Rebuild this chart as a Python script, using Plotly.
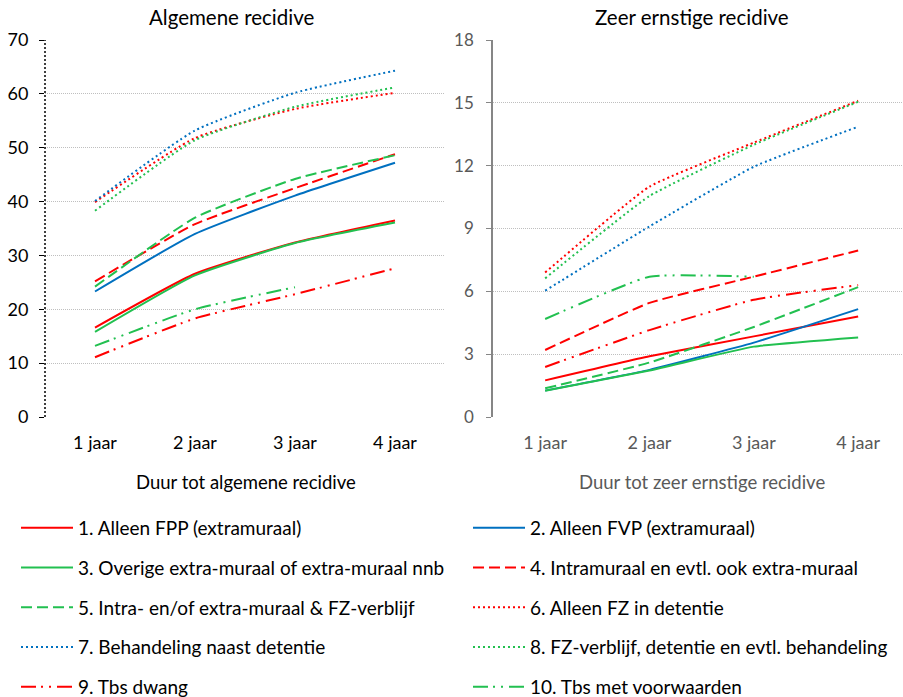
import plotly.graph_objects as go
from plotly.subplots import make_subplots

categories = ["1 jaar", "2 jaar", "3 jaar", "4 jaar"]

names = [
    "1. Alleen FPP (extramuraal)",
    "2. Alleen FVP (extramuraal)",
    "3. Overige extra-muraal of extra-muraal nnb",
    "4. Intramuraal en evtl. ook extra-muraal",
    "5. Intra- en/of extra-muraal & FZ-verblijf",
    "6. Alleen FZ in detentie",
    "7. Behandeling naast detentie",
    "8. FZ-verblijf, detentie en evtl. behandeling",
    "9. Tbs dwang",
    "10. Tbs met voorwaarden",
]

# Algemene recidive (%)
alg_1 = [16.6, 26.6, 32.4, 36.5]
alg_2 = [23.3, 34.0, 41.1, 47.2]
alg_3 = [15.8, 26.3, 32.3, 36.1]
alg_4 = [25.2, 35.8, 42.5, 48.8]
alg_5 = [24.2, 37.0, 44.2, 48.6]
alg_6 = [39.9, 51.8, 57.2, 60.2]
alg_7 = [40.1, 53.2, 60.2, 64.3]
alg_8 = [38.3, 51.4, 57.6, 61.2]
alg_9 = [11.1, 18.3, 22.8, 27.6]
alg_10 = [13.2, 20.0, 24.1, None]

# Zeer ernstige recidive (%)
zer_1 = [1.75, 2.9, 3.85, 4.8]
zer_2 = [1.26, 2.25, 3.55, 5.15]
zer_3 = [1.25, 2.22, 3.36, 3.8]
zer_4 = [3.2, 5.45, 6.7, 7.95]
zer_5 = [1.37, 2.6, 4.3, 6.2]
zer_6 = [6.9, 11.0, 13.1, 15.1]
zer_7 = [6.03, 9.1, 11.95, 13.86]
zer_8 = [6.62, 10.55, 13.0, 15.05]
zer_9 = [2.39, 4.15, 5.6, 6.3]
zer_10 = [4.68, 6.7, 6.7, None]

alg_series = [alg_1, alg_2, alg_3, alg_4, alg_5, alg_6, alg_7, alg_8, alg_9, alg_10]
zer_series = [zer_1, zer_2, zer_3, zer_4, zer_5, zer_6, zer_7, zer_8, zer_9, zer_10]

RED = "#FF0000"
BLUE = "#0070C0"
GREEN = "#22C050"
DASH = "11px,5px"
DOT = "2px,3px"
DDD = "15px,5px,2px,6px,2px,6px"
styles = [
    (RED, "solid"), (BLUE, "solid"), (GREEN, "solid"), (RED, DASH), (GREEN, DASH),
    (RED, DOT), (BLUE, DOT), (GREEN, DOT), (RED, DDD), (GREEN, DDD),
]

W, H = 903, 697
PT, PB = 40, 417  # plot area top / bottom in pixels
PH = PB - PT

fig = make_subplots(rows=1, cols=2)

for i in range(10):
    color, dash = styles[i]
    leg = "legend" if i % 2 == 0 else "legend2"
    fig.add_trace(go.Scatter(
        x=categories, y=alg_series[i], name=names[i], mode="lines",
        line=dict(color=color, width=2, dash=dash, shape="spline", smoothing=0.5),
        legendgroup=f"g{i}", legend=leg, connectgaps=False,
    ), row=1, col=1)
    fig.add_trace(go.Scatter(
        x=categories, y=zer_series[i], name=names[i], mode="lines",
        line=dict(color=color, width=2, dash=dash, shape="spline", smoothing=0.4),
        legendgroup=f"g{i}", showlegend=False, connectgaps=False,
    ), row=1, col=2)

FONT = "Lato, 'Open Sans', sans-serif"
GRID = "#BFBFBF"

fig.update_layout(
    width=W, height=H,
    margin=dict(l=0, r=0, t=PT, b=H - PB, autoexpand=False),
    paper_bgcolor="white", plot_bgcolor="white",
    font=dict(family=FONT, size=18, color="black"),
    xaxis=dict(domain=[45 / W, 445 / W], range=[-0.5, 3.5], showgrid=False,
               showline=False, ticks="", ticklabelstandoff=13,
               tickfont=dict(size=18, color="black")),
    yaxis=dict(range=[0, 70], dtick=10, showgrid=True, gridcolor=GRID, griddash="1px,1px",
               gridwidth=1, zeroline=False, showline=False, ticks="outside", ticklen=5,
               tickcolor="black", ticklabelstandoff=7, tickfont=dict(size=18, color="black")),
    xaxis2=dict(domain=[493 / W, 1.0], range=[-0.5, 3.43], showgrid=False,
                showline=False, ticks="", ticklabelstandoff=13,
                tickfont=dict(size=18, color="#595959")),
    yaxis2=dict(range=[0, 18], dtick=3, showgrid=True, gridcolor=GRID, griddash="1px,1px",
                gridwidth=1, zeroline=False, showline=True, linecolor="#868686", linewidth=1.5,
                ticks="outside", ticklen=5, tickcolor="#868686", ticklabelstandoff=9,
                tickfont=dict(size=17, color="#595959")),
    legend=dict(x=16 / W, y=-0.244, xanchor="left", yanchor="top", orientation="v",
                tracegroupgap=12, itemwidth=52, font=dict(size=19, color="black"),
                bgcolor="rgba(0,0,0,0)"),
    legend2=dict(x=468 / W, y=-0.244, xanchor="left", yanchor="top", orientation="v",
                 tracegroupgap=12, itemwidth=52, font=dict(size=19, color="black"),
                 bgcolor="rgba(0,0,0,0)"),
    showlegend=True,
)

# dotted left y-axis line
fig.add_shape(type="line", xref="x domain", yref="y domain", x0=0, x1=0, y0=0, y1=1,
              line=dict(color="black", width=1.5, dash="2px,2px"))

# subplot titles and axis titles
fig.add_annotation(text="Algemene recidive", xref="paper", yref="paper",
                   x=232 / W, y=1 + 23 / PH, xanchor="center", yanchor="middle",
                   showarrow=False, font=dict(family=FONT, size=20.5, color="black"))
fig.add_annotation(text="Zeer ernstige recidive", xref="paper", yref="paper",
                   x=692 / W, y=1 + 23 / PH, xanchor="center", yanchor="middle",
                   showarrow=False, font=dict(family=FONT, size=20.5, color="black"))
fig.add_annotation(text="Duur tot algemene recidive", xref="paper", yref="paper",
                   x=246 / W, y=-(482 - 417) / PH, xanchor="center", yanchor="middle",
                   showarrow=False, font=dict(family=FONT, size=18.5, color="black"))
fig.add_annotation(text="Duur tot zeer ernstige recidive", xref="paper", yref="paper",
                   x=702 / W, y=-(482 - 417) / PH, xanchor="center", yanchor="middle",
                   showarrow=False, font=dict(family=FONT, size=18.5, color="#595959"))

fig.write_html("out.html", config={"displayModeBar": False},
               post_script="document.body.style.margin='0px';")
